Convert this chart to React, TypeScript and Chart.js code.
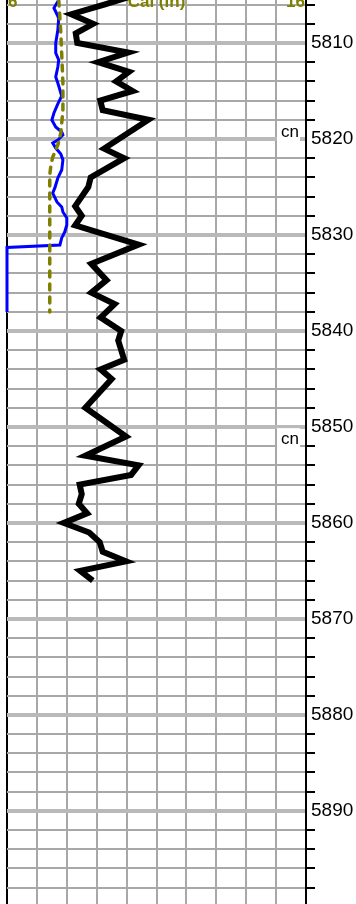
import React, { useEffect, useRef } from "react";
import { Chart, registerables } from "chart.js";

Chart.register(...registerables);

// ---- axis / labels ----
const DEPTH_TOP = 5805.52;
const DEPTH_BOTTOM = 5899.7;
const CAL_MIN = 6;
const CAL_MAX = 16;
const headerLabels = ["6", "Cal (in)", "16"];
const gridDepths: number[] = [];
for (let d = 5806; d <= 5898; d += 2) gridDepths.push(d);
const depthLabels = [5810, 5820, 5830, 5840, 5850, 5860, 5870, 5880, 5890];
const annotationDepths = [5820, 5852];
const annotationTexts = ["cn", "cn"];

// ---- black curve ----
const blackDepths = [
  5805, 5806, 5807, 5808, 5809, 5810, 5811, 5812, 5813, 5814, 5815, 5816, 5817, 5818,
  5821, 5822, 5824, 5825, 5827, 5828, 5829, 5831, 5833, 5834.7, 5836, 5837.2, 5838.6,
  5840, 5841, 5843, 5844, 5845, 5848, 5851, 5853, 5854, 5855, 5856, 5857, 5858, 5859,
  5860, 5861, 5862, 5863, 5864, 5865, 5866,
];
const blackValues = [
  10.3, 9.25, 8.15, 8.88, 8.3, 8.35, 10.05, 9.05, 10.08, 9.65, 10.2, 9.12, 9.2, 10.73,
  9.25, 9.92, 8.8, 8.72, 8.28, 8.5, 8.28, 10.4, 8.82, 9.33, 8.82, 9.6, 9.13,
  9.82, 9.72, 9.92, 9.13, 9.5, 8.62, 9.98, 8.62, 10.4, 10.15, 8.43, 8.5, 8.4, 8.68,
  7.9, 8.75, 9.1, 9.2, 9.98, 8.45, 8.87,
];

// ---- blue curve ----
const blueDepths = [
  5805.52, 5806.35, 5807.4, 5808.65, 5810.0, 5811.04, 5811.77, 5812.5, 5813.54, 5814.17,
  5815.52, 5816.35, 5817.29, 5818.02, 5818.75, 5819.27, 5819.58, 5820.1, 5820.42, 5820.94,
  5821.56, 5822.19, 5823.23, 5824.06, 5825.1, 5825.63, 5826.56, 5827.08, 5827.6, 5828.23,
  5828.96, 5829.69, 5830.31, 5831.04, 5831.3, 5838.02,
];
const blueValues = [
  7.73, 7.57, 7.73, 7.7, 7.63, 7.63, 7.73, 7.7, 7.63, 7.7,
  7.83, 7.7, 7.57, 7.5, 7.63, 7.83, 7.87, 7.7, 7.53, 7.63,
  7.8, 7.87, 7.83, 7.7, 7.6, 7.53, 7.67, 7.83, 7.87, 8.0,
  8.0, 7.93, 7.83, 7.77, 6.0, 6.0,
];

// ---- olive dashed curve ----
const oliveDepths = [
  5805.52, 5808.96, 5814.17, 5816.98, 5819.38, 5820.63, 5821.88, 5822.71, 5823.75, 5838.02,
];
const oliveValues = [7.73, 7.8, 7.87, 7.87, 7.8, 7.7, 7.53, 7.47, 7.43, 7.43];

const toPoints = (depths: number[], values: number[]) =>
  depths.map((d, i) => ({ x: values[i], y: d }));

const FONT = '"Liberation Sans", Arial, Helvetica, sans-serif';

const overlayPlugin = {
  id: "overlay",
  afterDraw(chart: any) {
    const ctx = chart.ctx as CanvasRenderingContext2D;
    const { left, right } = chart.chartArea;
    const yScale = chart.scales.y;
    ctx.save();
    ctx.font = `17px ${FONT}`;
    annotationDepths.forEach((d, i) => {
      const py = yScale.getPixelForValue(d);
      ctx.fillStyle = "#ffffff";
      ctx.fillRect(right - 29, py - 18, 23, 21);
      ctx.fillStyle = "#000000";
      ctx.textAlign = "left";
      ctx.textBaseline = "alphabetic";
      ctx.fillText(annotationTexts[i], right - 25, py - 2);
    });
    ctx.font = `bold 17px ${FONT}`;
    ctx.fillStyle = "#808000";
    ctx.textBaseline = "alphabetic";
    ctx.textAlign = "left";
    ctx.fillText(headerLabels[0], left + 1, 7);
    ctx.textAlign = "center";
    ctx.fillText(headerLabels[1], (left + right) / 2, 7);
    ctx.textAlign = "right";
    ctx.fillText(headerLabels[2], right - 1, 7);
    ctx.restore();
  },
};

export default function App() {
  const ref = useRef<HTMLCanvasElement | null>(null);
  useEffect(() => {
    if (!ref.current) return;
    const chart = new Chart(ref.current, {
      type: "line",
      data: {
        datasets: [
          {
            label: "black",
            data: toPoints(blackDepths, blackValues),
            borderColor: "#000000",
            borderWidth: 6,
            pointRadius: 0,
            tension: 0,
            order: 0,
            clip: 4,
          } as any,
          {
            label: "cal",
            data: toPoints(oliveDepths, oliveValues),
            borderColor: "#808000",
            borderWidth: 3.5,
            borderDash: [6, 7],
            borderCapStyle: "round",
            pointRadius: 0,
            tension: 0,
            order: 1,
            clip: 4,
          } as any,
          {
            label: "blue",
            data: toPoints(blueDepths, blueValues),
            borderColor: "#0000ff",
            borderWidth: 3,
            pointRadius: 0,
            tension: 0,
            order: 2,
            clip: 4,
          } as any,
        ],
      },
      options: {
        animation: false,
        responsive: false,
        indexAxis: "y",
        layout: { padding: { left: 7, right: 0, top: 0, bottom: 0 } },
        plugins: { legend: { display: false }, tooltip: { enabled: false } },
        scales: {
          x: {
            type: "linear",
            position: "top",
            min: CAL_MIN,
            max: CAL_MAX,
            afterFit: (s: any) => {
              s.height = 0;
              s.paddingLeft = 0;
              s.paddingRight = 0;
            },
            ticks: { display: false, stepSize: 1 },
            grid: {
              color: (c: any) => (c.tick && c.tick.value === CAL_MIN ? "#000000" : "#a8a8a8"),
              lineWidth: 2,
              drawTicks: false,
            },
            border: { display: false },
          },
          y: {
            type: "linear",
            position: "right",
            reverse: true,
            min: DEPTH_TOP,
            max: DEPTH_BOTTOM,
            afterBuildTicks: (s: any) => {
              s.ticks = gridDepths.map((v) => ({ value: v }));
            },
            afterFit: (s: any) => {
              s.width = 50;
              s.paddingTop = 0;
              s.paddingBottom = 0;
            },
            ticks: {
              autoSkip: false,
              padding: -4,
              color: "#000000",
              font: { size: 19, family: FONT },
              callback: (v: any) => (depthLabels.includes(Number(v)) ? String(v) : ""),
            },
            grid: {
              color: (c: any) =>
                c.tick && depthLabels.includes(c.tick.value) ? "#b9b9b9" : "#a8a8a8",
              lineWidth: (c: any) => (c.tick && depthLabels.includes(c.tick.value) ? 4 : 2),
              drawTicks: true,
              tickLength: 9,
              tickWidth: 2,
              tickColor: (c: any) =>
                c.tick && depthLabels.includes(c.tick.value) ? "rgba(0,0,0,0)" : "#000000",
            },
            border: { display: true, color: "#000000", width: 2 },
          },
        },
      } as any,
      plugins: [overlayPlugin],
    });
    return () => chart.destroy();
  }, []);
  return (
    <canvas
      ref={ref}
      width={356}
      height={904}
      style={{ position: "absolute", left: 0, top: 0, width: 356, height: 904 }}
    />
  );
}
